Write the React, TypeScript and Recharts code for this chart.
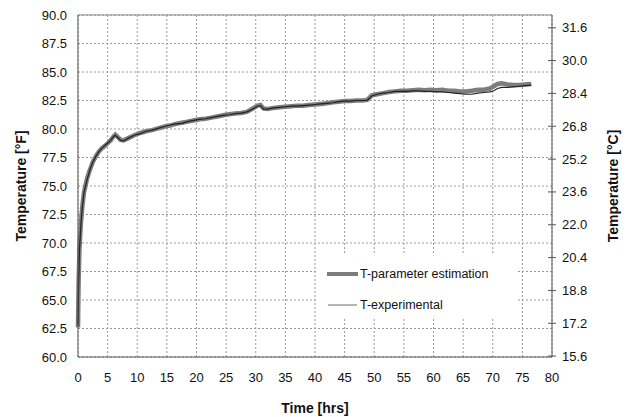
import React from 'react';
import { LineChart, Line, XAxis, YAxis, CartesianGrid, ReferenceLine, Legend } from 'recharts';

// Elapsed time [hrs]
const timeHrs = [
  0, 0.1, 0.25, 0.5, 0.75, 1, 1.5, 2, 2.5, 3, 3.5, 4, 4.5, 5, 5.5, 6, 6.3, 6.7, 7.2, 7.7,
  8.5, 9.5, 10.5, 11.5, 12.5, 13.5, 14.5, 15.5, 16.5, 17.5, 18.5, 19.5, 20.5, 21.5, 22.5,
  23.5, 24.5, 25.5, 26.5, 27.5, 28.5, 29.5, 30.3, 30.8, 31.3, 32, 33, 34, 35, 36, 37, 38,
  39, 40, 41, 42, 43, 44, 45, 46, 47, 48, 48.8, 49.2, 49.6, 50.5, 51.5, 52.5, 53.5, 54.5,
  55.5, 56.5, 57.5, 58.5, 59.5, 60.5, 61.5, 62.5, 63.5, 64.5, 65.5, 66.5, 67.5, 68.5, 69.5,
  70.2, 70.8, 71.5, 72.5, 73.5, 74.5, 75.5, 76.5,
];

// Temperature from parameter estimation [°F]
const tEstimation = [
  62.6, 66.5, 69.5, 71.8, 73.3, 74.4, 75.6, 76.4, 77.1, 77.6, 78.0, 78.3, 78.5, 78.75, 79.0,
  79.35, 79.5, 79.3, 79.05, 79.0, 79.2, 79.45, 79.65, 79.8, 79.9, 80.05, 80.2, 80.3, 80.45,
  80.55, 80.65, 80.75, 80.85, 80.9, 81.0, 81.1, 81.2, 81.3, 81.35, 81.4, 81.5, 81.8, 82.05,
  82.1, 81.8, 81.75, 81.85, 81.9, 81.95, 82.0, 82.05, 82.05, 82.1, 82.15, 82.2, 82.25, 82.35,
  82.4, 82.45, 82.45, 82.5, 82.5, 82.55, 82.75, 82.95, 83.05, 83.15, 83.25, 83.3, 83.35,
  83.35, 83.4, 83.45, 83.4, 83.45, 83.4, 83.45, 83.35, 83.35, 83.3, 83.3, 83.35, 83.45,
  83.45, 83.55, 83.75, 83.95, 84.0, 83.9, 83.85, 83.85, 83.9, 83.95,
];

// Measured temperature [°F]
const tExperimental = [
  62.8, 66.3, 69.4, 71.7, 73.2, 74.4, 75.5, 76.4, 77.1, 77.6, 78.0, 78.3, 78.55, 78.75, 79.0,
  79.35, 79.45, 79.25, 79.0, 78.95, 79.2, 79.45, 79.6, 79.8, 79.9, 80.05, 80.2, 80.35, 80.45,
  80.5, 80.65, 80.75, 80.85, 80.9, 81.0, 81.1, 81.2, 81.25, 81.35, 81.4, 81.5, 81.75, 82.0,
  82.05, 81.75, 81.75, 81.85, 81.9, 81.95, 82.0, 82.0, 82.05, 82.1, 82.15, 82.2, 82.25, 82.3,
  82.4, 82.45, 82.45, 82.5, 82.5, 82.5, 82.7, 82.9, 83.05, 83.15, 83.2, 83.3, 83.3,
  83.3, 83.35, 83.35, 83.3, 83.3, 83.25, 83.25, 83.2, 83.15, 83.1, 83.05, 83.05, 83.15,
  83.2, 83.25, 83.35, 83.55, 83.65, 83.65, 83.7, 83.75, 83.8, 83.85,
];

const xTicks = [0, 5, 10, 15, 20, 25, 30, 35, 40, 45, 50, 55, 60, 65, 70, 75, 80];
const fahrenheitTicks = [60, 62.5, 65, 67.5, 70, 72.5, 75, 77.5, 80, 82.5, 85, 87.5, 90];
const celsiusTicks = [15.6, 17.2, 18.8, 20.4, 22.0, 23.6, 25.2, 26.8, 28.4, 30.0, 31.6];

const seriesNames = ['T-parameter estimation', 'T-experimental'];

const rows = timeHrs.map((t, i) => ({ t, est: tEstimation[i], exp: tExperimental[i] }));

const FONT = '"Liberation Sans", Arial, sans-serif';
const fDomain: [number, number] = [60, 90];
const cDomain: [number, number] = [(60 - 32) / 1.8, (90 - 32) / 1.8];

const CelsiusTick = (props: any) => {
  const { x, y, payload } = props;
  return (
    <g>
      <line x1={x - 14} x2={x - 6} y1={y} y2={y} stroke="#555" strokeWidth={1} />
      <text x={x} y={y} dy="0.35em" textAnchor="start" fontSize={13} fontFamily={FONT} fill="#111">
        {Number(payload.value).toFixed(1)}
      </text>
    </g>
  );
};

const AxisTitle = ({ x, y, angle, text }: { x: number; y: number; angle: number; text: string }) => (
  <text
    x={x}
    y={y}
    transform={`rotate(${angle} ${x} ${y})`}
    textAnchor="middle"
    dominantBaseline="central"
    fontSize={14}
    fontWeight="bold"
    fontFamily={FONT}
    fill="#111"
  >
    {text}
  </text>
);

const LegendBox = () => (
  <svg width={198} height={62} style={{ display: 'block', background: '#fff' }}>
    <line x1={9} x2={40} y1={19} y2={19} stroke="#7d7d7d" strokeWidth={4} />
    <text x={42} y={19} dominantBaseline="central" fontSize={12.5} fontFamily={FONT} fill="#111">
      {seriesNames[0]}
    </text>
    <line x1={10} x2={39} y1={50} y2={50} stroke="#6a6a6a" strokeWidth={1} />
    <text x={42} y={50} dominantBaseline="central" fontSize={12.5} fontFamily={FONT} fill="#111">
      {seriesNames[1]}
    </text>
  </svg>
);

export default function App() {
  return (
    <div style={{ position: 'absolute', left: 0, top: 0, width: 626, height: 417, background: '#fff' }}>
      <LineChart width={626} height={417} data={rows} margin={{ top: 15, right: 0, bottom: 0, left: 0 }}>
        <CartesianGrid yAxisId="f" stroke="#9a9a9a" strokeDasharray="2 2" />
        <XAxis
          dataKey="t"
          type="number"
          domain={[0, 80]}
          ticks={xTicks}
          height={60}
          tickLine={false}
          tickSize={0}
          tickMargin={16}
          axisLine={{ stroke: '#555' }}
          tick={{ fontSize: 13, fontFamily: FONT, fill: '#111' }}
          label={{
            content: (p: any) => (
              <AxisTitle x={p.viewBox.x + p.viewBox.width / 2} y={408} angle={0} text="Time [hrs]" />
            ),
          }}
        />
        <YAxis
          yAxisId="f"
          orientation="left"
          type="number"
          domain={fDomain}
          ticks={fahrenheitTicks}
          width={78}
          tickLine={false}
          tickSize={0}
          tickMargin={11}
          axisLine={{ stroke: '#555' }}
          tickFormatter={(v: number) => v.toFixed(1)}
          tick={{ fontSize: 13, fontFamily: FONT, fill: '#111' }}
          label={{
            content: (p: any) => (
              <AxisTitle x={21} y={p.viewBox.y + p.viewBox.height / 2} angle={-90} text="Temperature [°F]" />
            ),
          }}
        />
        <YAxis
          yAxisId="c"
          orientation="right"
          type="number"
          domain={cDomain}
          allowDataOverflow
          ticks={celsiusTicks}
          width={74}
          tickLine={false}
          tickSize={0}
          tickMargin={10}
          axisLine={{ stroke: '#555' }}
          tick={<CelsiusTick />}
          label={{
            content: (p: any) => (
              <AxisTitle x={613} y={p.viewBox.y + p.viewBox.height / 2} angle={-90} text="Temperature [°C]" />
            ),
          }}
        />
        <ReferenceLine yAxisId="f" y={90} stroke="#8a8a8a" strokeWidth={1} />
        <Line
          yAxisId="f"
          dataKey="est"
          name={seriesNames[0]}
          type="linear"
          stroke="#7d7d7d"
          strokeWidth={4.5}
          dot={false}
          isAnimationActive={false}
        />
        <Line
          yAxisId="f"
          dataKey="exp"
          name={seriesNames[1]}
          type="linear"
          stroke="#222"
          strokeWidth={1.2}
          dot={false}
          isAnimationActive={false}
        />
        <Legend
          layout="vertical"
          align="center"
          verticalAlign="middle"
          content={() => <LegendBox />}
          wrapperStyle={{ left: 318, top: 255, width: 198, height: 62 }}
        />
      </LineChart>
    </div>
  );
}
